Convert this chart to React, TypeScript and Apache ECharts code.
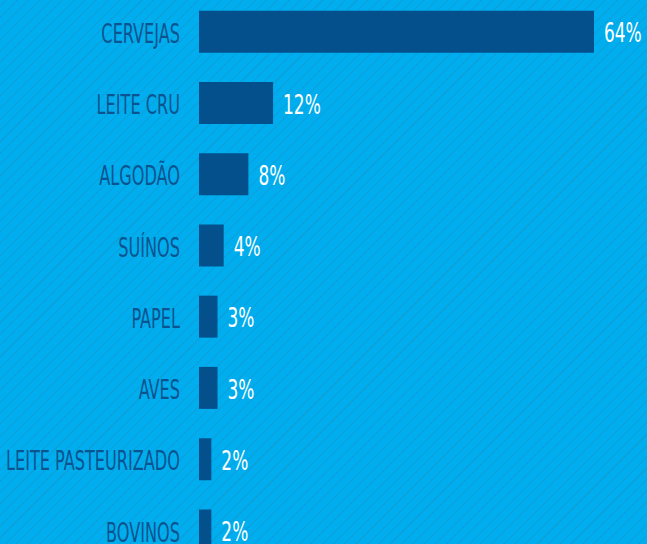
import React, { useEffect, useRef } from "react";
import * as echarts from "echarts";

const categories = [
  "CERVEJAS",
  "LEITE CRU",
  "ALGODÃO",
  "SUÍNOS",
  "PAPEL",
  "AVES",
  "LEITE PASTEURIZADO",
  "BOVINOS",
];
const values = [64, 12, 8, 4, 3, 3, 2, 2];

const FONT = '"DejaVu Sans Condensed", "DejaVu Sans", sans-serif';

export default function App() {
  const ref = useRef<HTMLDivElement>(null);
  useEffect(() => {
    if (!ref.current) return;
    const chart = echarts.init(ref.current, undefined, { renderer: "svg" });
    chart.setOption({
      animation: false,
      backgroundColor: "transparent",
      grid: {
        left: 199,
        right: 53,
        top: 0,
        bottom: 0,
        containLabel: false,
        outerBoundsMode: "none",
      },
      xAxis: {
        type: "value",
        min: 0,
        max: 64,
        show: false,
      },
      yAxis: {
        type: "category",
        data: categories,
        inverse: true,
        axisLine: { show: false },
        axisTick: { show: false },
        splitLine: { show: false },
        axisLabel: { show: false },
      },
      series: [
        {
          type: "bar",
          data: values,
          barWidth: 42,
          itemStyle: { color: "#03508d" },
          label: { show: false },
        },
      ],
    });

    const texts: any[] = [];
    categories.forEach((c, i) => {
      const y = chart.convertToPixel({ yAxisIndex: 0 }, c) as number;
      const x0 = chart.convertToPixel({ xAxisIndex: 0 }, 0) as number;
      const xv = chart.convertToPixel({ xAxisIndex: 0 }, values[i]) as number;
      texts.push({
        type: "text",
        x: x0 - 19,
        y: y + 2,
        scaleX: 0.69,
        style: {
          text: c,
          align: "right",
          verticalAlign: "middle",
          fill: "#0b5490",
          font: `26px ${FONT}`,
        },
      });
      texts.push({
        type: "text",
        x: xv + 10,
        y: y + 1,
        scaleX: 0.7,
        style: {
          text: `${values[i]}%`,
          align: "left",
          verticalAlign: "middle",
          fill: "#ffffff",
          font: `27px ${FONT}`,
        },
      });
    });
    chart.setOption({ graphic: { elements: texts } });

    return () => chart.dispose();
  }, []);
  return (
    <div
      style={{
        position: "fixed",
        left: 0,
        top: -4,
        width: 647,
        height: 570,
        background:
          "repeating-linear-gradient(135deg, #00aeef 0px, #00aeef 6.5px, #09a3dd 6.5px, #09a3dd 8px)",
      }}
    >
      <div ref={ref} style={{ width: 647, height: 570 }} />
    </div>
  );
}
